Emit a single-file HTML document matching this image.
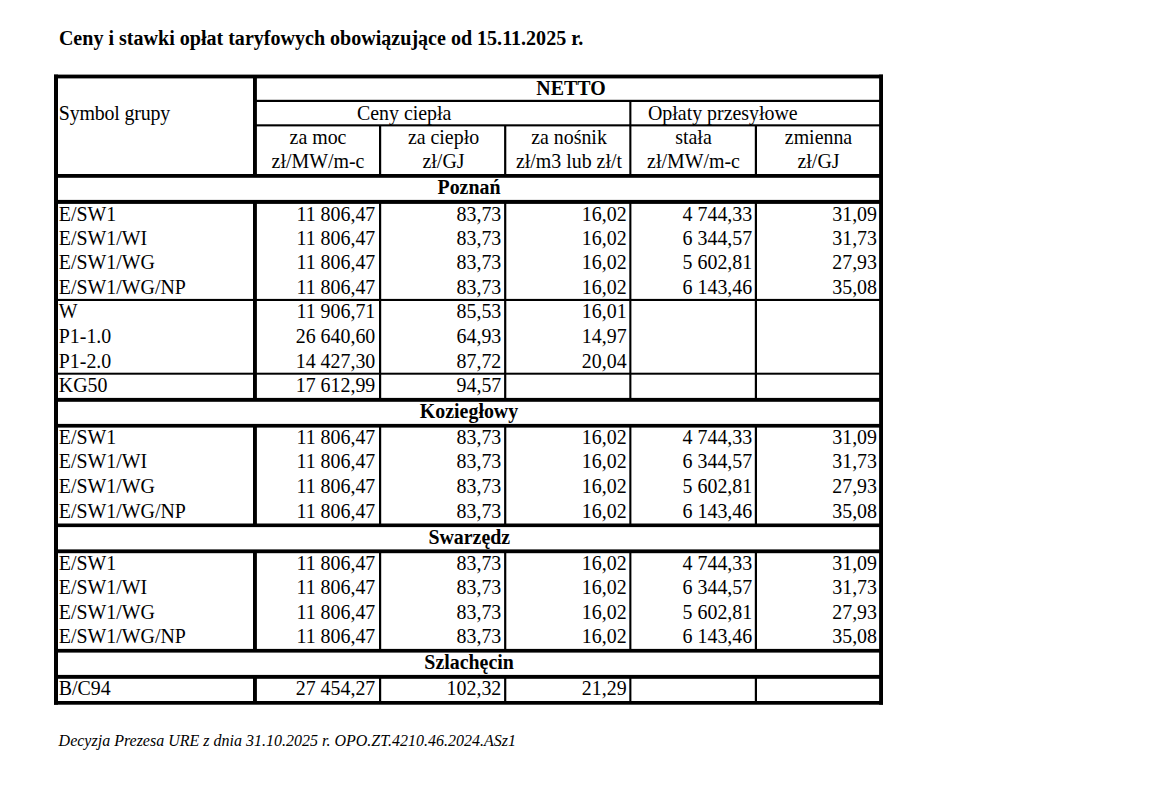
<!DOCTYPE html>
<html lang="pl"><head><meta charset="utf-8"><title>Ceny i stawki opłat taryfowych</title>
<style>
html,body{margin:0;padding:0;background:#fff;}
body{width:1152px;height:788px;position:relative;overflow:hidden;font-family:"Liberation Serif",serif;color:#000;}
.g{position:absolute;left:0;top:0;fill:#000;}
.t{position:absolute;white-space:pre;line-height:1;font-size:19.9px;}
.b{font-weight:bold;}
.i{font-style:italic;font-size:16px;}
.ti{font-size:20.06px;}
.sg{letter-spacing:-0.17px;}
.c{transform:translateX(-50%);}
</style></head><body>
<svg class="g" width="1152" height="788" viewBox="0 0 1152 788">
<rect x="54.00" y="74.60" width="829.00" height="3.80"/>
<rect x="54.00" y="701.00" width="829.00" height="3.70"/>
<rect x="54.00" y="174.00" width="829.00" height="3.80"/>
<rect x="54.00" y="199.90" width="829.00" height="4.00"/>
<rect x="54.00" y="397.90" width="829.00" height="3.90"/>
<rect x="54.00" y="423.90" width="829.00" height="3.70"/>
<rect x="54.00" y="523.50" width="829.00" height="3.60"/>
<rect x="54.00" y="549.40" width="829.00" height="3.80"/>
<rect x="54.00" y="648.90" width="829.00" height="3.70"/>
<rect x="54.00" y="674.90" width="829.00" height="3.90"/>
<rect x="253.00" y="99.80" width="630.00" height="2.20"/>
<rect x="253.00" y="124.30" width="630.00" height="2.10"/>
<rect x="54.00" y="298.90" width="829.00" height="2.10"/>
<rect x="54.00" y="372.70" width="829.00" height="2.00"/>
<rect x="54.00" y="74.60" width="4.00" height="630.10"/>
<rect x="879.10" y="74.60" width="3.90" height="630.10"/>
<rect x="253.00" y="76.50" width="3.90" height="99.50"/>
<rect x="253.00" y="202.00" width="3.90" height="198.00"/>
<rect x="253.00" y="426.00" width="3.90" height="99.00"/>
<rect x="253.00" y="551.50" width="3.90" height="99.50"/>
<rect x="253.00" y="677.00" width="3.90" height="26.00"/>
<rect x="379.00" y="125.50" width="2.20" height="50.50"/>
<rect x="379.00" y="202.00" width="2.20" height="198.00"/>
<rect x="379.00" y="426.00" width="2.20" height="99.00"/>
<rect x="379.00" y="551.50" width="2.20" height="99.50"/>
<rect x="379.00" y="677.00" width="2.20" height="26.00"/>
<rect x="504.10" y="125.50" width="2.20" height="50.50"/>
<rect x="504.10" y="202.00" width="2.20" height="198.00"/>
<rect x="504.10" y="426.00" width="2.20" height="99.00"/>
<rect x="504.10" y="551.50" width="2.20" height="99.50"/>
<rect x="504.10" y="677.00" width="2.20" height="26.00"/>
<rect x="754.80" y="125.50" width="2.20" height="50.50"/>
<rect x="754.80" y="202.00" width="2.20" height="198.00"/>
<rect x="754.80" y="426.00" width="2.20" height="99.00"/>
<rect x="754.80" y="551.50" width="2.20" height="99.50"/>
<rect x="754.80" y="677.00" width="2.20" height="26.00"/>
<rect x="629.30" y="101.00" width="2.10" height="75.00"/>
<rect x="629.30" y="202.00" width="2.10" height="198.00"/>
<rect x="629.30" y="426.00" width="2.10" height="99.00"/>
<rect x="629.30" y="551.50" width="2.10" height="99.50"/>
<rect x="629.30" y="677.00" width="2.10" height="26.00"/>
</svg>
<div class="t b ti" style="left:58.9px;top:28.0px">Ceny i stawki opłat taryfowych obowiązujące od 15.11.2025 r.</div>
<div class="t i" style="left:58.6px;top:733.0px">Decyzja Prezesa URE z dnia 31.10.2025 r. OPO.ZT.4210.46.2024.ASz1</div>
<div class="t sg" style="left:58.8px;top:104.0px">Symbol grupy</div>
<div class="t b c" style="left:571.0px;top:79.0px">NETTO</div>
<div class="t c" style="left:404.2px;top:104.0px">Ceny ciepła</div>
<div class="t" style="left:648.0px;top:104.0px">Opłaty przesyłowe</div>
<div class="t c" style="left:318.0px;top:128.0px">za moc</div>
<div class="t c" style="left:318.0px;top:152.0px">zł/MW/m-c</div>
<div class="t c" style="left:443.5px;top:128.0px">za ciepło</div>
<div class="t c" style="left:443.5px;top:152.0px">zł/GJ</div>
<div class="t c" style="left:569.0px;top:128.0px">za nośnik</div>
<div class="t c" style="left:569.0px;top:152.0px">zł/m3 lub zł/t</div>
<div class="t c" style="left:693.5px;top:128.0px">stała</div>
<div class="t c" style="left:693.5px;top:152.0px">zł/MW/m-c</div>
<div class="t c" style="left:818.5px;top:128.0px">zmienna</div>
<div class="t c" style="left:818.5px;top:152.0px">zł/GJ</div>
<div class="t b c" style="left:469.0px;top:178.0px">Poznań</div>
<div class="t b c" style="left:469.0px;top:402.0px">Koziegłowy</div>
<div class="t b c" style="left:469.3px;top:528.0px">Swarzędz</div>
<div class="t b c" style="left:469.1px;top:653.0px">Szlachęcin</div>
<div class="t" style="left:58.8px;top:205.0px">E/SW1</div>
<div class="t" style="right:776.7px;top:205.0px">11 806,47</div>
<div class="t" style="right:650.7px;top:205.0px">83,73</div>
<div class="t" style="right:525.4px;top:205.0px">16,02</div>
<div class="t" style="right:399.8px;top:205.0px">4 744,33</div>
<div class="t" style="right:275.0px;top:205.0px">31,09</div>
<div class="t" style="left:58.8px;top:229.0px">E/SW1/WI</div>
<div class="t" style="right:776.7px;top:229.0px">11 806,47</div>
<div class="t" style="right:650.7px;top:229.0px">83,73</div>
<div class="t" style="right:525.4px;top:229.0px">16,02</div>
<div class="t" style="right:399.8px;top:229.0px">6 344,57</div>
<div class="t" style="right:275.0px;top:229.0px">31,73</div>
<div class="t" style="left:58.8px;top:253.0px">E/SW1/WG</div>
<div class="t" style="right:776.7px;top:253.0px">11 806,47</div>
<div class="t" style="right:650.7px;top:253.0px">83,73</div>
<div class="t" style="right:525.4px;top:253.0px">16,02</div>
<div class="t" style="right:399.8px;top:253.0px">5 602,81</div>
<div class="t" style="right:275.0px;top:253.0px">27,93</div>
<div class="t" style="left:58.8px;top:278.0px">E/SW1/WG/NP</div>
<div class="t" style="right:776.7px;top:278.0px">11 806,47</div>
<div class="t" style="right:650.7px;top:278.0px">83,73</div>
<div class="t" style="right:525.4px;top:278.0px">16,02</div>
<div class="t" style="right:399.8px;top:278.0px">6 143,46</div>
<div class="t" style="right:275.0px;top:278.0px">35,08</div>
<div class="t" style="left:58.8px;top:302.0px">W</div>
<div class="t" style="right:776.7px;top:302.0px">11 906,71</div>
<div class="t" style="right:650.7px;top:302.0px">85,53</div>
<div class="t" style="right:525.4px;top:302.0px">16,01</div>
<div class="t" style="left:58.8px;top:327.0px">P1-1.0</div>
<div class="t" style="right:776.7px;top:327.0px">26 640,60</div>
<div class="t" style="right:650.7px;top:327.0px">64,93</div>
<div class="t" style="right:525.4px;top:327.0px">14,97</div>
<div class="t" style="left:58.8px;top:352.0px">P1-2.0</div>
<div class="t" style="right:776.7px;top:352.0px">14 427,30</div>
<div class="t" style="right:650.7px;top:352.0px">87,72</div>
<div class="t" style="right:525.4px;top:352.0px">20,04</div>
<div class="t" style="left:58.8px;top:376.0px">KG50</div>
<div class="t" style="right:776.7px;top:376.0px">17 612,99</div>
<div class="t" style="right:650.7px;top:376.0px">94,57</div>
<div class="t" style="left:58.8px;top:428.0px">E/SW1</div>
<div class="t" style="right:776.7px;top:428.0px">11 806,47</div>
<div class="t" style="right:650.7px;top:428.0px">83,73</div>
<div class="t" style="right:525.4px;top:428.0px">16,02</div>
<div class="t" style="right:399.8px;top:428.0px">4 744,33</div>
<div class="t" style="right:275.0px;top:428.0px">31,09</div>
<div class="t" style="left:58.8px;top:452.0px">E/SW1/WI</div>
<div class="t" style="right:776.7px;top:452.0px">11 806,47</div>
<div class="t" style="right:650.7px;top:452.0px">83,73</div>
<div class="t" style="right:525.4px;top:452.0px">16,02</div>
<div class="t" style="right:399.8px;top:452.0px">6 344,57</div>
<div class="t" style="right:275.0px;top:452.0px">31,73</div>
<div class="t" style="left:58.8px;top:477.0px">E/SW1/WG</div>
<div class="t" style="right:776.7px;top:477.0px">11 806,47</div>
<div class="t" style="right:650.7px;top:477.0px">83,73</div>
<div class="t" style="right:525.4px;top:477.0px">16,02</div>
<div class="t" style="right:399.8px;top:477.0px">5 602,81</div>
<div class="t" style="right:275.0px;top:477.0px">27,93</div>
<div class="t" style="left:58.8px;top:502.0px">E/SW1/WG/NP</div>
<div class="t" style="right:776.7px;top:502.0px">11 806,47</div>
<div class="t" style="right:650.7px;top:502.0px">83,73</div>
<div class="t" style="right:525.4px;top:502.0px">16,02</div>
<div class="t" style="right:399.8px;top:502.0px">6 143,46</div>
<div class="t" style="right:275.0px;top:502.0px">35,08</div>
<div class="t" style="left:58.8px;top:554.0px">E/SW1</div>
<div class="t" style="right:776.7px;top:554.0px">11 806,47</div>
<div class="t" style="right:650.7px;top:554.0px">83,73</div>
<div class="t" style="right:525.4px;top:554.0px">16,02</div>
<div class="t" style="right:399.8px;top:554.0px">4 744,33</div>
<div class="t" style="right:275.0px;top:554.0px">31,09</div>
<div class="t" style="left:58.8px;top:578.0px">E/SW1/WI</div>
<div class="t" style="right:776.7px;top:578.0px">11 806,47</div>
<div class="t" style="right:650.7px;top:578.0px">83,73</div>
<div class="t" style="right:525.4px;top:578.0px">16,02</div>
<div class="t" style="right:399.8px;top:578.0px">6 344,57</div>
<div class="t" style="right:275.0px;top:578.0px">31,73</div>
<div class="t" style="left:58.8px;top:603.0px">E/SW1/WG</div>
<div class="t" style="right:776.7px;top:603.0px">11 806,47</div>
<div class="t" style="right:650.7px;top:603.0px">83,73</div>
<div class="t" style="right:525.4px;top:603.0px">16,02</div>
<div class="t" style="right:399.8px;top:603.0px">5 602,81</div>
<div class="t" style="right:275.0px;top:603.0px">27,93</div>
<div class="t" style="left:58.8px;top:627.0px">E/SW1/WG/NP</div>
<div class="t" style="right:776.7px;top:627.0px">11 806,47</div>
<div class="t" style="right:650.7px;top:627.0px">83,73</div>
<div class="t" style="right:525.4px;top:627.0px">16,02</div>
<div class="t" style="right:399.8px;top:627.0px">6 143,46</div>
<div class="t" style="right:275.0px;top:627.0px">35,08</div>
<div class="t" style="left:58.8px;top:679.0px">B/C94</div>
<div class="t" style="right:776.7px;top:679.0px">27 454,27</div>
<div class="t" style="right:650.7px;top:679.0px">102,32</div>
<div class="t" style="right:525.4px;top:679.0px">21,29</div>
</body></html>
